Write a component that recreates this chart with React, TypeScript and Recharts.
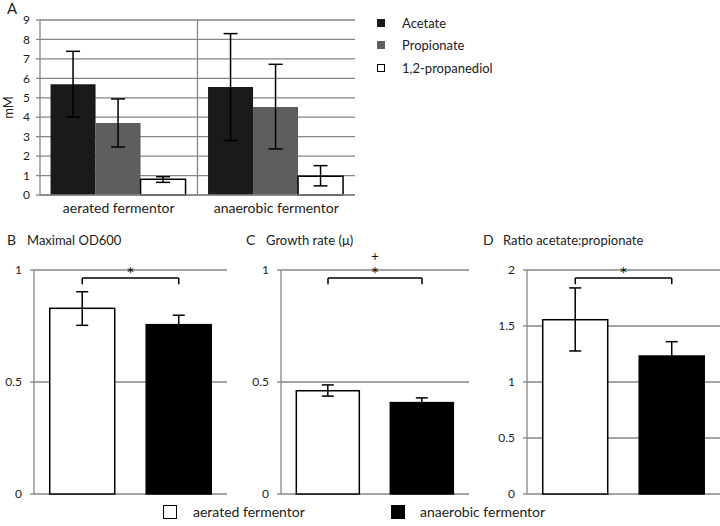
import React from 'react';
import { BarChart, Bar, XAxis, YAxis, CartesianGrid, ErrorBar, ReferenceLine, Label } from 'recharts';

const FONT = 'Lato, "Open Sans", sans-serif';
const GRID = '#868686';
const TEXT = '#222';

// ---------- Panel A data ----------
const conditions = ['aerated fermentor', 'anaerobic fermentor'];
const acetate = [5.69, 5.56];
const acetateLow = [4.0, 2.8];
const acetateHigh = [7.39, 8.3];
const propionate = [3.7, 4.53];
const propionateLow = [2.47, 2.37];
const propionateHigh = [4.94, 6.72];
const propanediol = [0.81, 0.96];
const propanediolLow = [0.65, 0.47];
const propanediolHigh = [0.94, 1.51];
const mMTicks = [0, 1, 2, 3, 4, 5, 6, 7, 8, 9];
const seriesNames = ['Acetate', 'Propionate', '1,2-propanediol'];

// ---------- Panels B-D data ----------
const groups = ['aerated fermentor', 'anaerobic fermentor'];
const maxOD = [0.829, 0.756];
const maxODLow = [0.753, 0.714];
const maxODHigh = [0.903, 0.798];
const odTicks = [0, 0.5, 1];
const odBracket = [0.964, 0.936];

const growthRate = [0.461, 0.408];
const growthLow = [0.437, 0.387];
const growthHigh = [0.487, 0.429];
const growthTicks = [0, 0.5, 1];
const growthBracket = [0.964, 0.936];

const ratio = [1.556, 1.232];
const ratioLow = [1.277, 1.104];
const ratioHigh = [1.84, 1.36];
const ratioTicks = [0, 0.5, 1, 1.5, 2];
const ratioBracket = [1.929, 1.873];

const err = (v: number, lo: number, hi: number) => [v - lo, hi - v];

const tickStyle = { fontSize: 12, fill: TEXT, fontFamily: FONT };

function PanelA() {
  const data = conditions.map((name, i) => ({
    name,
    acetate: acetate[i],
    acetateErr: err(acetate[i], acetateLow[i], acetateHigh[i]),
    propionate: propionate[i],
    propionateErr: err(propionate[i], propionateLow[i], propionateHigh[i]),
    propanediol: propanediol[i],
    propanediolErr: err(propanediol[i], propanediolLow[i], propanediolHigh[i]),
  }));
  return (
    <BarChart
      width={360}
      height={230}
      data={data}
      margin={{ top: 20, right: 5, left: 0, bottom: 5 }}
      barCategoryGap="6.7%"
      barGap={0}
    >
      <CartesianGrid
        stroke={GRID}
        strokeWidth={1.3}
        vertical
        verticalCoordinatesGenerator={(p: any) => (p && p.offset ? [p.offset.left + p.offset.width / 2] : [])}
      />
      <XAxis
        dataKey="name"
        height={30}
        axisLine={{ stroke: GRID, strokeWidth: 1.3 }}
        tickLine={false}
        tickSize={0}
        tickMargin={8}
        tick={{ fontSize: 14, fill: TEXT, fontFamily: FONT }}
      />
      <YAxis
        width={40}
        domain={[0, 9]}
        ticks={mMTicks}
        interval={0}
        axisLine={{ stroke: GRID, strokeWidth: 1.3 }}
        tickLine={{ stroke: GRID, strokeWidth: 1.3 }}
        tickSize={4}
        tickMargin={6}
        tick={tickStyle}
      >
        <Label value="mM" angle={-90} position="center" dx={-12} style={{ fontSize: 13, fill: TEXT, fontFamily: FONT }} />
      </YAxis>
      <Bar dataKey="acetate" name={seriesNames[0]} fill="#1a1a1a" isAnimationActive={false}>
        <ErrorBar dataKey="acetateErr" width={7} stroke="#000" strokeWidth={1.5} />
      </Bar>
      <Bar dataKey="propionate" name={seriesNames[1]} fill="#5e5e5e" isAnimationActive={false}>
        <ErrorBar dataKey="propionateErr" width={7} stroke="#000" strokeWidth={1.5} />
      </Bar>
      <Bar dataKey="propanediol" name={seriesNames[2]} fill="#fff" stroke="#000" strokeWidth={1.5} isAnimationActive={false}>
        <ErrorBar dataKey="propanediolErr" width={7} stroke="#000" strokeWidth={1.5} />
      </Bar>
    </BarChart>
  );
}

type SmallProps = {
  values: number[];
  lows: number[];
  highs: number[];
  ticks: number[];
  bracket: number[];
  marks: string[];
  width: number;
  marginRight: number;
};

function SmallPanel({ values, lows, highs, ticks, bracket, marks, width, marginRight }: SmallProps) {
  const data = groups.map((name, i) => ({
    name,
    value: values[i],
    valueErr: err(values[i], lows[i], highs[i]),
  }));
  const top = bracket[0];
  const end = bracket[1];
  return (
    <BarChart
      width={width}
      height={262}
      data={data}
      margin={{ top: 30, right: marginRight, left: 0, bottom: 8 }}
      barCategoryGap="16.3%"
    >
      <CartesianGrid stroke={GRID} strokeWidth={1.3} vertical={false} />
      <XAxis dataKey="name" hide />
      <YAxis
        width={34}
        domain={[ticks[0], ticks[ticks.length - 1]]}
        ticks={ticks}
        interval={0}
        axisLine={{ stroke: GRID, strokeWidth: 1.3 }}
        tickLine={{ stroke: GRID, strokeWidth: 1.3 }}
        tickSize={4}
        tickMargin={8}
        tick={tickStyle}
      />
      <Bar dataKey="value" isAnimationActive={false} shape={(p: any) => (
        <rect
          x={p.x}
          y={p.y}
          width={p.width}
          height={p.height}
          fill={p.index === 0 ? '#fff' : '#000'}
          stroke="#000"
          strokeWidth={1.5}
        />
      )}>
        <ErrorBar dataKey="valueErr" width={6} stroke="#000" strokeWidth={1.5} />
      </Bar>
      <ReferenceLine
        segment={[{ x: groups[0], y: top }, { x: groups[1], y: top }]}
        stroke="#000"
        strokeWidth={1.5}
        ifOverflow="visible"
      >
        <Label value={marks[0]} position="top" offset={-3} fill="#111" stroke="none" fontSize={20} fontFamily={FONT} />
        {marks.length > 1 ? (
          <Label value={marks[1]} position="top" offset={17} fill="#111" stroke="none" fontSize={13} fontFamily={FONT} />
        ) : null}
      </ReferenceLine>
      <ReferenceLine segment={[{ x: groups[0], y: top }, { x: groups[0], y: end }]} stroke="#000" strokeWidth={1.5} ifOverflow="visible" />
      <ReferenceLine segment={[{ x: groups[1], y: top }, { x: groups[1], y: end }]} stroke="#000" strokeWidth={1.5} ifOverflow="visible" />
    </BarChart>
  );
}

const abs = (left: number, top: number, extra: React.CSSProperties = {}): React.CSSProperties => ({
  position: 'absolute',
  left,
  top,
  ...extra,
});

const titleStyle = { fontSize: 13, lineHeight: '18px', whiteSpace: 'nowrap' as const };

export default function App() {
  const legendColors = ['#1a1a1a', '#5e5e5e', '#fff'];
  const legendY = [23, 45, 68];
  return (
    <div
      style={{
        position: 'absolute',
        left: 0,
        top: 0,
        width: 720,
        height: 526,
        background: '#fff',
        overflow: 'hidden',
        fontFamily: FONT,
        color: TEXT,
      }}
    >
      <div style={abs(0, 0)}>
        <PanelA />
      </div>
      <div style={abs(7, 0, { fontSize: 15, lineHeight: '16px' })}>A</div>
      {seriesNames.map((s, i) => (
        <React.Fragment key={s}>
          <div
            style={abs(377, legendY[i] - 4, {
              width: 8,
              height: 8,
              boxSizing: 'border-box',
              background: legendColors[i],
              border: i === 2 ? '1.5px solid #000' : 'none',
            })}
          />
          <div style={abs(402, legendY[i] - 9, { fontSize: 13, lineHeight: '18px' })}>{s}</div>
        </React.Fragment>
      ))}

      <div style={abs(0, 240)}>
        <SmallPanel values={maxOD} lows={maxODLow} highs={maxODHigh} ticks={odTicks} bracket={odBracket} marks={['*']} width={232} marginRight={5} />
      </div>
      <div style={abs(247, 240)}>
        <SmallPanel values={growthRate} lows={growthLow} highs={growthHigh} ticks={growthTicks} bracket={growthBracket} marks={['*', '+']} width={227} marginRight={5} />
      </div>
      <div style={abs(493, 240)}>
        <SmallPanel values={ratio} lows={ratioLow} highs={ratioHigh} ticks={ratioTicks} bracket={ratioBracket} marks={['*']} width={227} marginRight={0} />
      </div>

      <div style={abs(7, 231, { ...titleStyle, fontSize: 14 })}>B</div>
      <div style={abs(27, 231, titleStyle)}>Maximal OD600</div>
      <div style={abs(246, 231, { ...titleStyle, fontSize: 14 })}>C</div>
      <div style={abs(266, 231, titleStyle)}>Growth rate (μ)</div>
      <div style={abs(483, 231, { ...titleStyle, fontSize: 14 })}>D</div>
      <div style={abs(503, 231, titleStyle)}>Ratio acetate:propionate</div>

      <div style={abs(163, 505, { width: 14, height: 14, boxSizing: 'border-box', background: '#fff', border: '1.5px solid #000' })} />
      <div style={abs(193, 503, { fontSize: 14, lineHeight: '18px' })}>{groups[0]}</div>
      <div style={abs(391, 505, { width: 14, height: 14, boxSizing: 'border-box', background: '#000' })} />
      <div style={abs(420, 503, { fontSize: 14, lineHeight: '18px' })}>{groups[1]}</div>
    </div>
  );
}
